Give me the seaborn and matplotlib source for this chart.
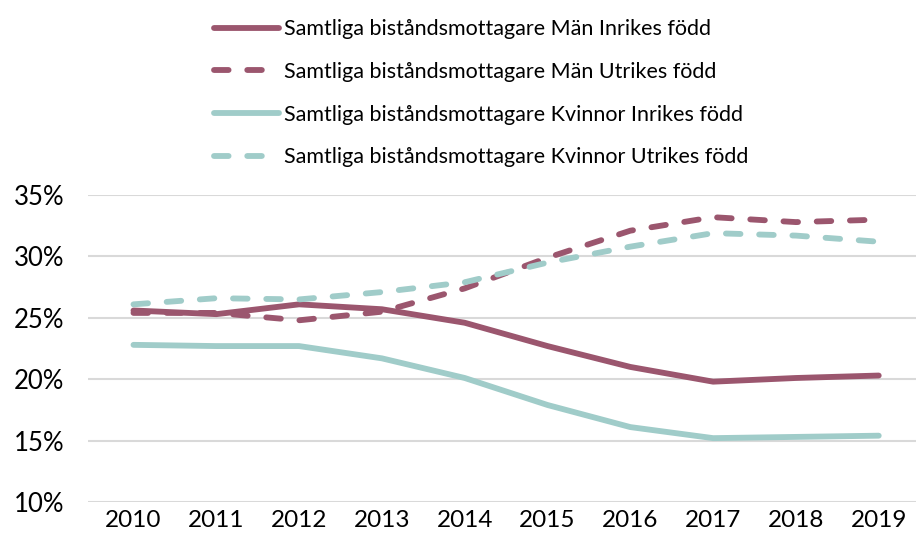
import matplotlib
matplotlib.use("Agg")
import matplotlib.pyplot as plt
import seaborn as sns
import pandas as pd
from matplotlib.ticker import FuncFormatter

years = [2010, 2011, 2012, 2013, 2014, 2015, 2016, 2017, 2018, 2019]
man_inrikes = [25.6, 25.3, 26.1, 25.7, 24.6, 22.7, 21.0, 19.8, 20.1, 20.3]
man_utrikes = [25.4, 25.4, 24.8, 25.5, 27.4, 29.9, 32.1, 33.2, 32.8, 33.0]
kv_inrikes = [22.8, 22.7, 22.7, 21.7, 20.1, 17.9, 16.1, 15.2, 15.3, 15.4]
kv_utrikes = [26.1, 26.6, 26.5, 27.1, 27.9, 29.5, 30.8, 31.9, 31.7, 31.2]
series_names = [
    "Samtliga biståndsmottagare Män Inrikes född",
    "Samtliga biståndsmottagare Män Utrikes född",
    "Samtliga biståndsmottagare Kvinnor Inrikes född",
    "Samtliga biståndsmottagare Kvinnor Utrikes född",
]
y_ticks = [10, 15, 20, 25, 30, 35]

sns.set_theme(style="white")
plt.rcParams['font.family'] = ['Lato', 'DejaVu Sans']
plt.rcParams['text.color'] = '#000000'

rows = []
for name, vals in zip(series_names, [man_inrikes, man_utrikes, kv_inrikes, kv_utrikes]):
    for y, v in zip(years, vals):
        rows.append({"year": y, "value": v, "series": name})
df = pd.DataFrame(rows)

maroon = "#9B566E"
teal = "#A0CCC9"
palette = {series_names[0]: maroon, series_names[1]: maroon,
           series_names[2]: teal, series_names[3]: teal}

fig = plt.figure(figsize=(9.16, 5.48), dpi=100)
ax = fig.add_axes([0.096, 0.084, 0.904, 0.56])

line_styles = ["-", "--", "-", "--"]
for name, ls in zip(series_names, line_styles):
    sub = df[df.series == name]
    sns.lineplot(data=sub, x="year", y="value", ax=ax, color=palette[name],
                 linewidth=4.2, label=name, solid_capstyle="round",
                 dash_capstyle="round")
    ax.lines[-1].set_linestyle(ls)
    if ls == "--":
        ax.lines[-1].set_dashes([3.5, 2.6])

ax.set_ylim(10, 35)
ax.set_xlim(2009.45, 2019.45)
ax.set_yticks(y_ticks)
ax.set_xticks(years)
ax.yaxis.set_major_formatter(FuncFormatter(lambda v, p: f"{int(v)}%"))
ax.grid(axis="y", color="#d9d9d9", linewidth=1.5)
ax.grid(axis="x", visible=False)
for s in ax.spines.values():
    s.set_visible(False)
ax.set_xlabel("")
ax.set_ylabel("")
ax.tick_params(axis="both", labelsize=17.5, colors="#000000", length=0, pad=6)
ax.tick_params(axis="y", labelsize=18.5, pad=17)

handles, labels = ax.get_legend_handles_labels()
for h, ls in zip(handles, line_styles):
    h.set_linestyle(ls)
    if ls == "--":
        h.set_dashes([2.5, 3.2])
fig.legend(handles, labels, loc="upper left", bbox_to_anchor=(0.213, 1.0),
           frameon=False, fontsize=15.5, handlelength=3.0, handletextpad=0.25,
           labelspacing=1.05, labelcolor="#000000")
if ax.get_legend():
    ax.get_legend().remove()

fig.savefig("out.png", dpi=100)
